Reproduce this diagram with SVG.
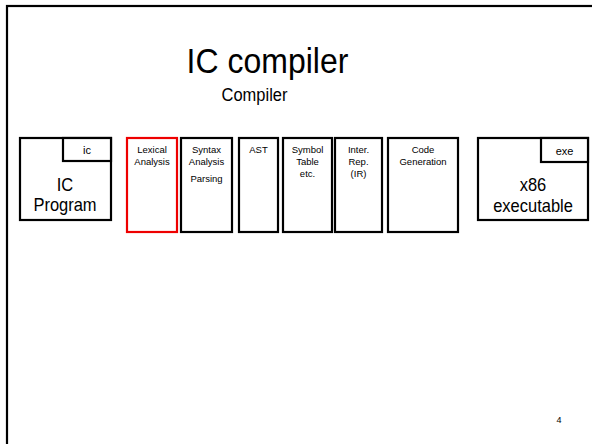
<svg xmlns="http://www.w3.org/2000/svg" width="592" height="444" viewBox="0 0 592 444">
  <style>
    .box { fill: #fff; stroke: #000; stroke-width: 2.2; }
    .hot { fill: #fff; stroke: #e00; stroke-width: 2.2; }
    .t { font-family: "Liberation Sans", Arial, sans-serif; fill: #000; text-anchor: middle; }
    .small { font-size: 9.5px; }
    .mid { font-size: 11px; }
    .big { font-size: 16.5px; }
  </style>
  <rect width="592" height="444" fill="#fff"/>
  <!-- slide frame -->
  <rect x="7" y="6" width="610" height="460" fill="none" stroke="#000" stroke-width="2.2"/>

  <!-- headings, slightly tall letterforms -->
  <text class="t" transform="translate(267.5,72.5) scale(1,1.12)" font-size="32">IC compiler</text>
  <text class="t" transform="translate(254.5,101) scale(1,1.12)" font-size="16.5">Compiler</text>

  <g id="ic-program">
    <rect class="box" x="20" y="138" width="91" height="82"/>
    <rect class="box" x="63" y="138" width="48" height="23"/>
    <text class="t mid" x="87" y="154">ic</text>
    <text class="t big" transform="translate(65,190.5) scale(1,1.08)">IC</text>
    <text class="t big" transform="translate(65,211) scale(1,1.08)">Program</text>
  </g>

  <g id="lexical">
    <rect class="hot" x="127" y="138" width="50" height="94"/>
    <text class="t small" x="152" y="153">Lexical</text>
    <text class="t small" x="152" y="165">Analysis</text>
  </g>

  <g id="syntax">
    <rect class="box" x="181" y="138" width="51" height="94"/>
    <text class="t small" x="206.5" y="153">Syntax</text>
    <text class="t small" x="206.5" y="165">Analysis</text>
    <text class="t small" x="206.5" y="181.5">Parsing</text>
  </g>

  <g id="ast">
    <rect class="box" x="239" y="138" width="39" height="94"/>
    <text class="t small" x="258.5" y="153">AST</text>
  </g>

  <g id="symbol-table">
    <rect class="box" x="283" y="138" width="49" height="94"/>
    <text class="t small" x="307.5" y="153">Symbol</text>
    <text class="t small" x="307.5" y="165">Table</text>
    <text class="t small" x="307.5" y="177">etc.</text>
  </g>

  <g id="ir">
    <rect class="box" x="335" y="138" width="47" height="94"/>
    <text class="t small" x="358.5" y="153">Inter.</text>
    <text class="t small" x="358.5" y="165">Rep.</text>
    <text class="t small" x="358.5" y="177">(IR)</text>
  </g>

  <g id="codegen">
    <rect class="box" x="388" y="138" width="70" height="94"/>
    <text class="t small" x="423" y="153">Code</text>
    <text class="t small" x="423" y="165">Generation</text>
  </g>

  <g id="executable">
    <rect class="box" x="478" y="138" width="110" height="82"/>
    <rect class="box" x="541" y="138" width="47" height="24"/>
    <text class="t mid" x="564.5" y="155">exe</text>
    <text class="t big" transform="translate(533,190.5) scale(1,1.08)">x86</text>
    <text class="t big" transform="translate(533,211.5) scale(1,1.08)">executable</text>
  </g>

  <g id="connectors"/>

  <text class="t" x="559" y="423" font-size="9">4</text>
</svg>
